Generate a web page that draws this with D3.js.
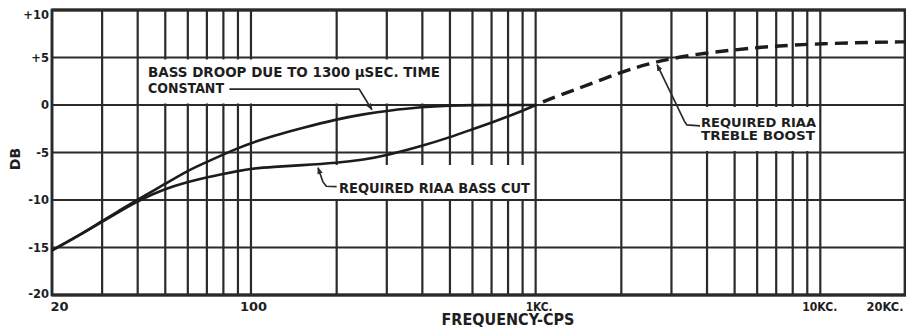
<!DOCTYPE html>
<html><head><meta charset="utf-8">
<script src="https://cdn.jsdelivr.net/npm/d3@7"></script>
<style>
html,body{margin:0;padding:0;background:#fff;}
svg{display:block;}
text{font-family:"DejaVu Sans","Liberation Sans",sans-serif;font-weight:bold;fill:#1e1e1e;}
</style></head>
<body>
<script>
// ---- data ----
const gridFreqs = [20,30,40,50,60,70,80,90,100,200,300,400,500,600,700,800,900,1000,2000,3000,4000,5000,6000,7000,8000,9000,10000,20000];
const gridDb = [-20,-15,-10,-5,0,5,10];
const xTickValues = [20,100,1000,10000,20000];
const xTickLabels = ["20","100","1KC.","10KC.","20KC."];
const yTickValues = [-20,-15,-10,-5,0,5,10];
const yTickLabels = ["-20","-15","-10","-5","0","+5","+10"];

const droopFreq = [20,25,30,35,40,50,60,70,80,90,100,120,150,200,250,300,400,500,600,800,1000];
const droopDb   = [-15.3,-13.7,-12.2,-11.0,-9.95,-8.3,-6.9,-6.0,-5.2,-4.55,-4.0,-3.25,-2.45,-1.5,-0.95,-0.62,-0.2,-0.05,0,0,0];

const cutFreq = [20,25,30,35,40,50,60,70,80,90,100,120,150,200,250,300,400,500,600,700,800,900,1000];
const cutDb   = [-15.3,-13.7,-12.3,-11.1,-10.1,-8.8,-8.1,-7.6,-7.25,-6.95,-6.7,-6.5,-6.35,-6.1,-5.75,-5.3,-4.3,-3.4,-2.55,-1.85,-1.2,-0.6,0];

const trebleFreq = [1000,1200,1500,2000,2500,3000,4000,5000,6000,7000,8000,10000,15000,20000];
const trebleDb   = [0,1.0,2.0,3.5,4.35,4.9,5.5,5.8,6.05,6.2,6.3,6.45,6.6,6.65];

// annotation leaders (freq, dB)
const leaderDroop = [[84,1.68],[240,1.68],[266,-0.5]];
const leaderCut   = [[200,-8.6],[184,-8.55],[179,-8.1],[172,-6.6]];
const leaderTreble= [[3780,-2.2],[3400,-2.1],[3330,-1.7],[2670,4.25]];

// ---- chart ----
const W=906,H=327;
const svg=d3.select("body").append("svg").attr("width",W).attr("height",H);
const x=d3.scaleLog().domain([20,20000]).range([52,906]);
const y=d3.scaleLinear().domain([-20,10]).range([295,10]);
const ink="#2a2a2a";

const defs=svg.append("defs");
defs.append("marker").attr("id","arr").attr("viewBox","0 0 10 10")
  .attr("refX",9).attr("refY",5).attr("markerWidth",7).attr("markerHeight",7)
  .attr("markerUnits","userSpaceOnUse").attr("orient","auto")
  .append("path").attr("d","M0,1L10,5L0,9z").attr("fill",ink);

// vertical grid
svg.append("g").selectAll("line").data(gridFreqs).join("line")
  .attr("x1",d=>x(d)).attr("x2",d=>x(d)).attr("y1",y(10)).attr("y2",y(-20))
  .attr("stroke",ink).attr("stroke-width",2.2);

// white label boxes that interrupt the grid
const boxes=[[142,59.5,445,103.5],[318,165,532,199],[676,107,816,151]];
svg.append("g").selectAll("rect").data(boxes).join("rect")
  .attr("x",d=>d[0]).attr("y",d=>d[1]).attr("width",d=>d[2]-d[0]).attr("height",d=>d[3]-d[1])
  .attr("fill","#fff");

// horizontal grid
svg.append("g").selectAll("line").data(gridDb).join("line")
  .attr("x1",x(20)).attr("x2",x(20000)).attr("y1",d=>y(d)).attr("y2",d=>y(d))
  .attr("stroke",ink).attr("stroke-width",d=>(d===-20||d===10)?2.8:2.2);
// frame
svg.append("rect").attr("x",x(20)).attr("y",y(10)).attr("width",x(20000)-x(20)-1).attr("height",y(-20)-y(10))
  .attr("fill","none").attr("stroke",ink).attr("stroke-width",2.8);

// curves
const line=d3.line().x(d=>x(d[0])).y(d=>y(d[1])).curve(d3.curveBasis);
svg.append("path").attr("d",line(droopFreq.map((f,i)=>[f,droopDb[i]])))
  .attr("fill","none").attr("stroke","#1c1c1c").attr("stroke-width",2.6);
svg.append("path").attr("d",line(cutFreq.map((f,i)=>[f,cutDb[i]])))
  .attr("fill","none").attr("stroke","#1c1c1c").attr("stroke-width",2.6);
svg.append("path").attr("d",line(trebleFreq.map((f,i)=>[f,trebleDb[i]])))
  .attr("fill","none").attr("stroke","#1c1c1c").attr("stroke-width",3.4)
  .attr("stroke-dasharray","13,7").attr("stroke-dashoffset",-8);

// leaders
const lline=d3.line().x(d=>x(d[0])).y(d=>y(d[1]));
[leaderDroop,leaderCut,leaderTreble].forEach(L=>{
  svg.append("path").attr("d",lline(L)).attr("fill","none").attr("stroke",ink)
    .attr("stroke-width",1.7).attr("marker-end","url(#arr)");
});

// annotation text
const fs=13.5;
function lab(t,xx,yy,w,size){
  svg.append("text").attr("x",xx).attr("y",yy).attr("font-size",size||fs)
    .attr("textLength",w).attr("lengthAdjust","spacingAndGlyphs").text(t);
}
lab("BASS DROOP DUE TO 1300 μSEC. TIME",148,76.5,292);
lab("CONSTANT",148,93,76);
lab("REQUIRED RIAA BASS CUT",339,193,191);
lab("REQUIRED RIAA",701,126.5,115,13);
lab("TREBLE BOOST",701,140,114,13);

// axes
const xa=svg.append("g").attr("transform","translate(0,295)")
  .call(d3.axisBottom(x).tickValues(xTickValues).tickSize(0).tickPadding(7)
    .tickFormat((d,i)=>xTickLabels[i]));
xa.select(".domain").remove();
xa.selectAll("text").attr("font-size",12.5).attr("font-family",null).attr("fill","#1e1e1e")
  .attr("dy",null).attr("y",15.5)
  .attr("text-anchor",(d,i)=>i===0?"start":(i===4?"end":"middle"))
  .attr("dx",(d,i)=>[-2,2,3,-1,-3][i]);
const xw=[18,27,27,35,37];
xa.selectAll("text").attr("textLength",(d,i)=>xw[i]).attr("lengthAdjust","spacingAndGlyphs");

const ya=svg.append("g").attr("transform","translate(52,0)")
  .call(d3.axisLeft(y).tickValues(yTickValues).tickSize(0).tickPadding(3)
    .tickFormat((d,i)=>yTickLabels[i]));
ya.select(".domain").remove();
ya.selectAll("text").attr("font-size",11.5).attr("font-family",null).attr("fill","#1e1e1e")
  .attr("dy",(d)=>d===10?"0.75em":(d===-20?"0.2em":"0.34em"));

svg.append("text").attr("transform","translate(20,159) rotate(-90)")
  .attr("text-anchor","middle").attr("font-size",14).text("DB");
svg.append("text").attr("x",508).attr("y",324.5).attr("text-anchor","middle")
  .attr("font-size",15).attr("textLength",133).attr("lengthAdjust","spacingAndGlyphs").text("FREQUENCY-CPS");
</script>
</body></html>
